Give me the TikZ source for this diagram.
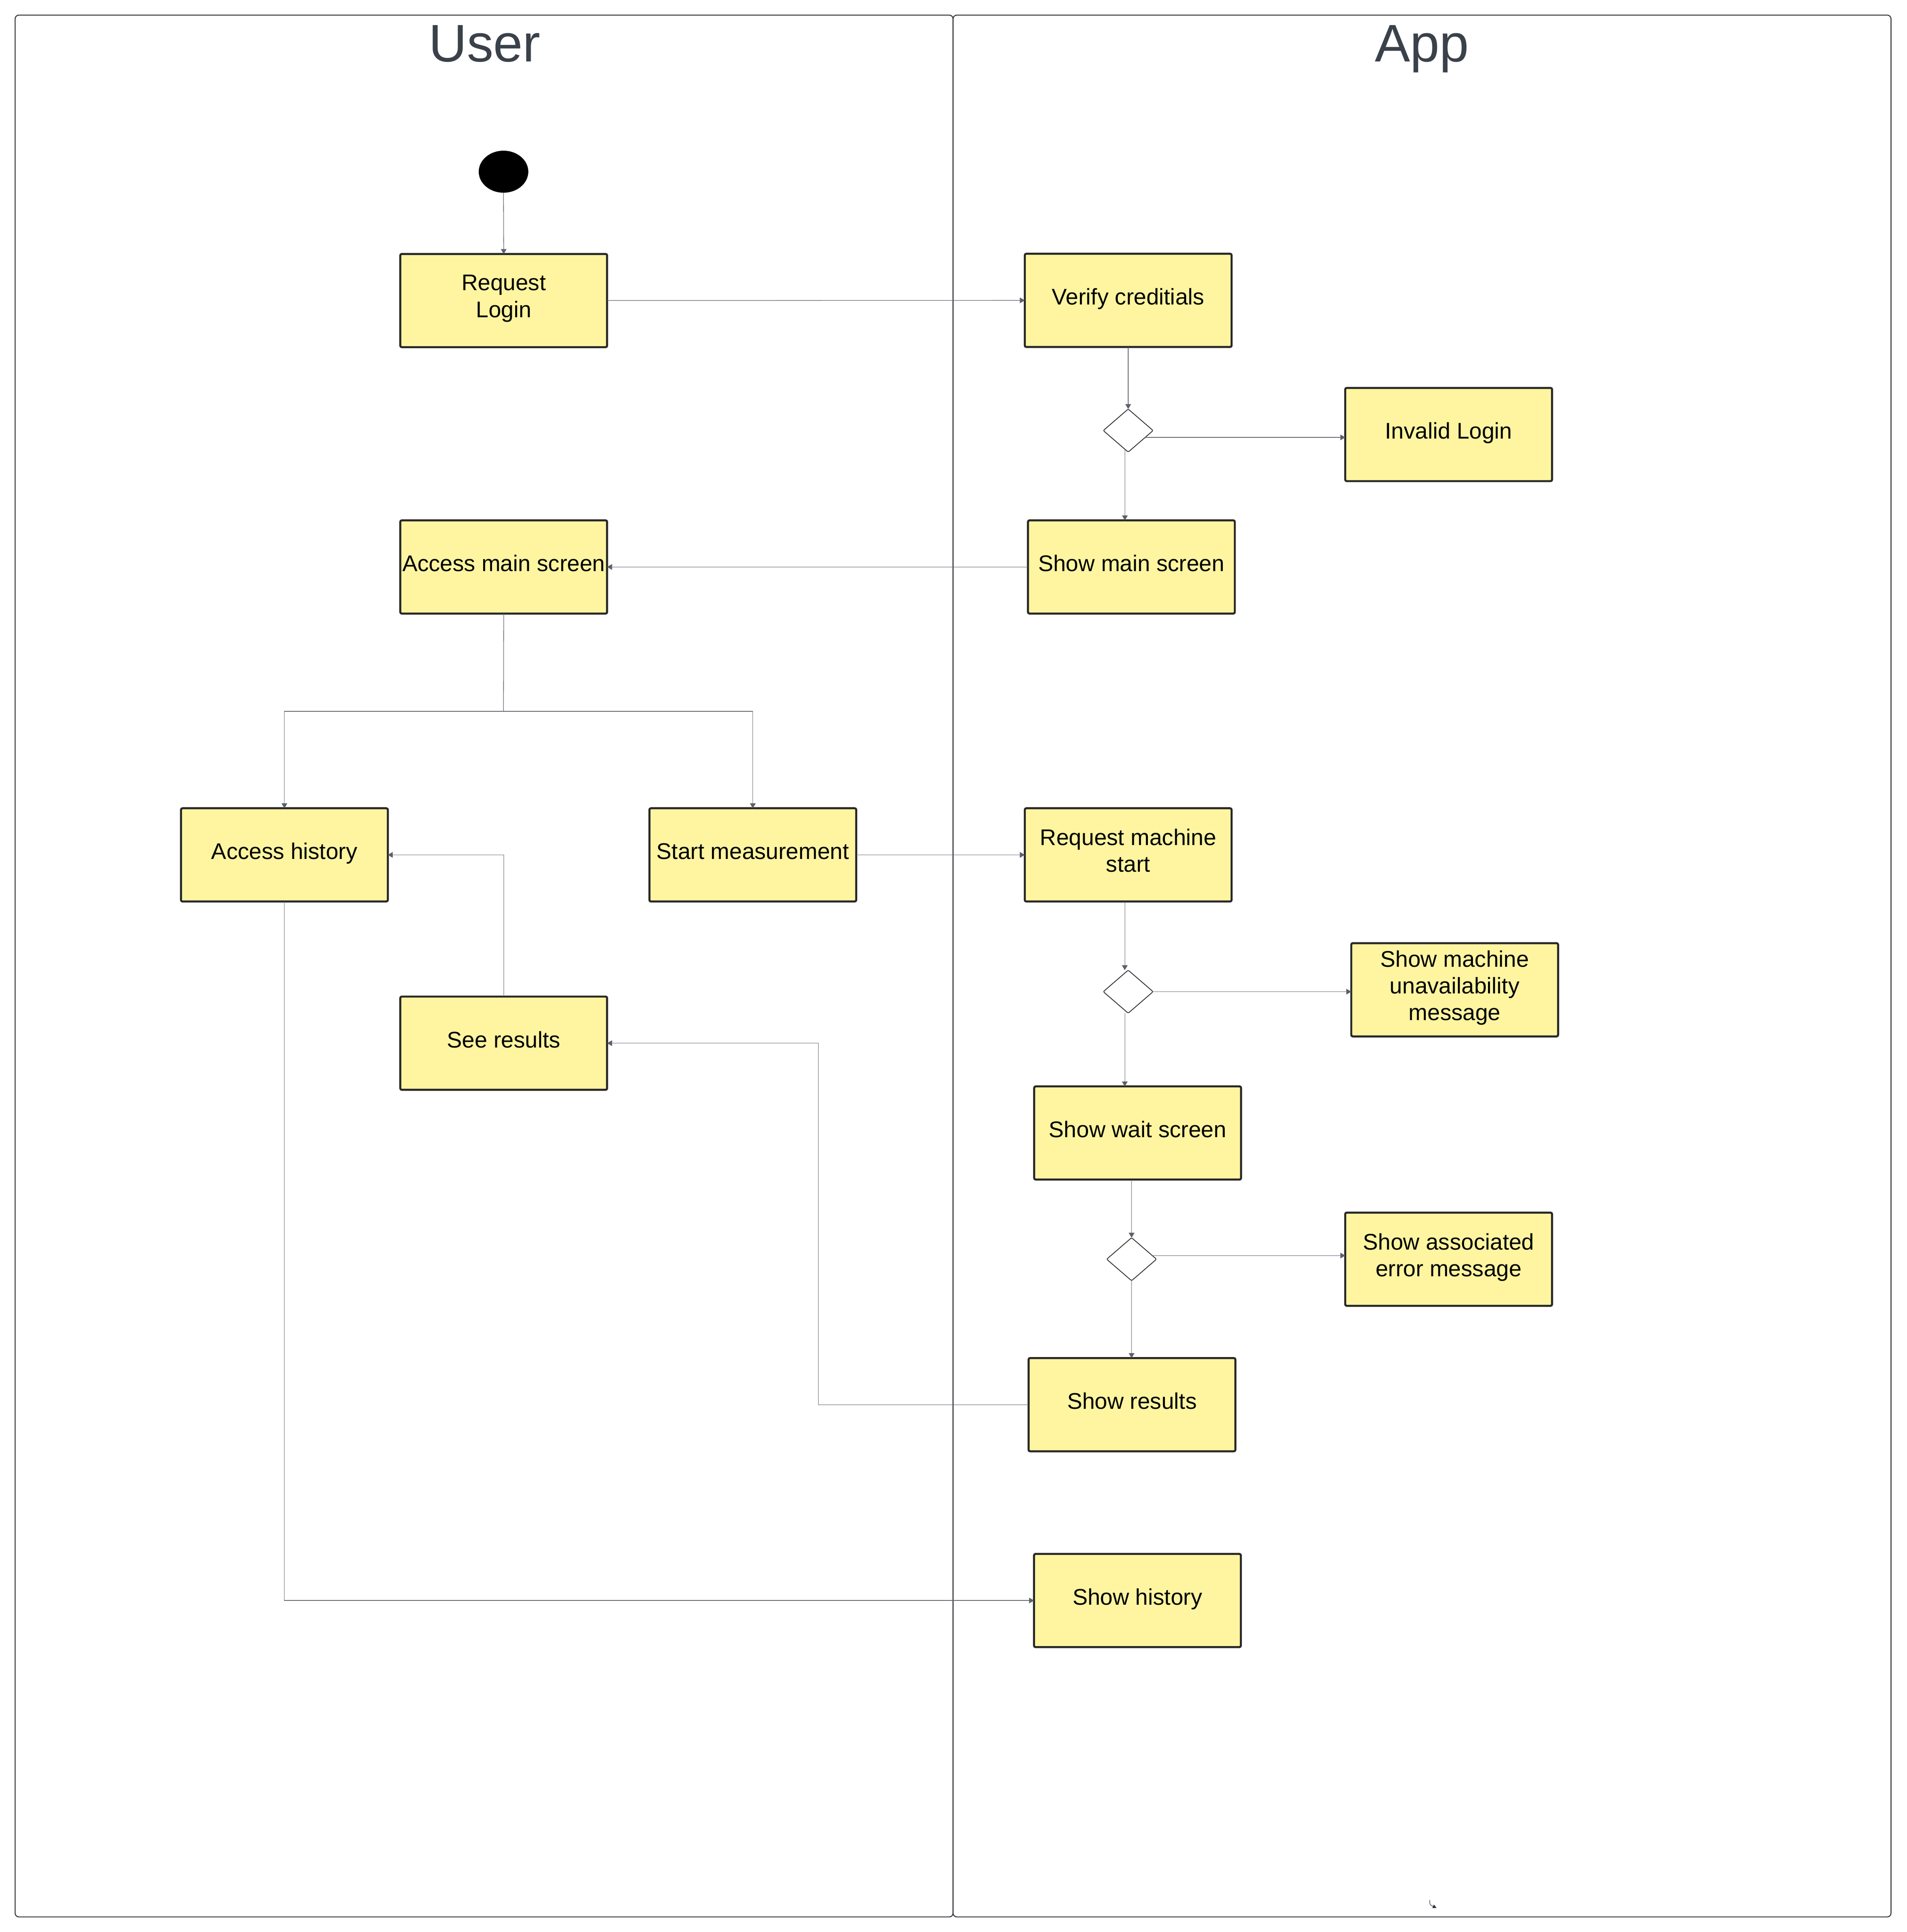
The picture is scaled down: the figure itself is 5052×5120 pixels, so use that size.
\documentclass[tikz,border=0pt]{standalone}
\usepackage{fontspec}
\setmainfont{Liberation Sans}
\usetikzlibrary{shapes.geometric,arrows.meta}
\definecolor{boxfill}{RGB}{255,245,160}
\definecolor{boxline}{RGB}{40,40,40}
\definecolor{laneline}{RGB}{50,52,58}
\definecolor{connline}{RGB}{90,95,105}
\definecolor{titlecol}{RGB}{58,65,74}
\newcommand{\boxstrut}{\rule[-7pt]{0pt}{21pt}}
\begin{document}
\begin{tikzpicture}[x=0.3pt,y=-0.3pt,
  act/.style={draw=boxline, fill=boxfill, line width=1.6pt, rounded corners=1.2pt,
    minimum width=164.4pt, minimum height=74.1pt, inner sep=0pt, outer sep=0pt,
    align=center, font=\fontsize{18}{21.3}\selectfont, text=black,
    execute at begin node=\boxstrut, execute at end node=\boxstrut},
  dec/.style={diamond, draw=boxline, fill=white, line width=0.6pt, rounded corners=1pt,
    minimum width=39.6pt, minimum height=34.2pt, inner sep=0pt, outer sep=0pt},
  flow/.style={draw=connline, line width=0.4pt},
  arr/.style={flow, -{Triangle[length=3.9pt,width=4.5pt]}},
  lanebox/.style={draw=laneline, line width=0.75pt, rounded corners=3pt},
  lanetitle/.style={font=\fontsize{42}{48}\selectfont, text=titlecol, inner sep=0pt, anchor=base}
]
\useasboundingbox (0,0) rectangle (5052,5120);
\fill[white] (0,0) rectangle (5052,5120);

% swimlanes
\draw[lanebox] (40,40) rectangle (2525,5080);
\draw[lanebox] (2525,40) rectangle (5010,5080);
\node[lanetitle] (tuser) at (1284,163) {User};
\node[lanetitle] (tapp) at (3767,163) {App};

% start
\node[ellipse, fill=black, draw=black, minimum width=39pt, minimum height=33pt, inner sep=0pt, outer sep=0pt] (start) at (1334,455) {};

% activities
\node[act] (reqlogin)   at (1334.5,796.5)  {Request\\Login};
\node[act] (verify)     at (2989,796)      {Verify creditials};
\node[dec] (d1)         at (2989,1141)     {};
\node[act] (invalid)    at (3838,1151.5)   {Invalid Login};
\node[act] (showmain)   at (2997.5,1502.5) {Show main screen};
\node[act] (accessmain) at (1334.5,1502.5) {Access main screen};
\node[act] (accesshist) at (753.5,2265.5)  {Access history};
\node[act] (startmeas)  at (1994.5,2265.5) {Start measurement};
\node[act] (reqmachine) at (2989,2265.5)   {Request machine\\start};
\node[dec] (d2)         at (2989,2628)     {};
\node[act] (smu)        at (3854,2623)     {Show machine\\unavailability\\message};
\node[act] (seeresults) at (1334.5,2764.5) {See results};
\node[act] (showwait)   at (3014,3002.5)   {Show wait screen};
\node[dec] (d3)         at (2998,3337)     {};
\node[act] (sae)        at (3838,3337)     {Show associated\\error message};
\node[act] (showresults) at (2999,3722.5)  {Show results};
\node[act] (showhist)   at (3013.5,4241.5) {Show history};

% connectors
\draw[arr] (start.south) -- (reqlogin.north);
\draw[arr] (reqlogin.east) -- (verify.west);
\draw[arr] (verify.south) -- (d1.north);
\draw[arr] (d1.-22) -- (d1.-22 -| invalid.west);
\draw[arr] (d1.-100) -- (d1.-100 |- showmain.north);
\draw[arr] (showmain.west) -- (accessmain.east);
\coordinate (fork) at (1334,1885);
\draw[flow] (accessmain.south) -- (fork);
\draw[arr] (fork) -| (accesshist.north);
\draw[arr] (fork) -| (startmeas.north);
\draw[arr] (startmeas.east) -- (reqmachine.west);
\draw[arr] (seeresults.north) |- (accesshist.east);
\draw[arr] ([xshift=-2.7pt]reqmachine.south) -- ([xshift=-2.7pt]d2.north);
\draw[arr] (d2.east) -- (d2.east -| smu.west);
\draw[arr] ([xshift=-2.7pt]d2.south) -- ([xshift=-2.7pt]d2.south |- showwait.north);
\draw[arr] (d3.north |- showwait.south) -- (d3.north);
\draw[arr] (d3.10) -- (d3.10 -| sae.west);
\draw[arr] (d3.south) -- (d3.south |- showresults.north);
\draw[arr] (showresults.west) -- ++(-557,0) |- (seeresults.east);
\draw[arr] (accesshist.south) |- (showhist.west);

% stray tiny connector near the bottom
\coordinate (st1) at (3788,5035);
\coordinate (st2) at (3806,5056);
\draw[draw=laneline, line width=0.4pt, -{Triangle[length=3pt,width=3pt]}] (st1) .. controls (3788,5048) .. (st2);
\end{tikzpicture}
\end{document}
